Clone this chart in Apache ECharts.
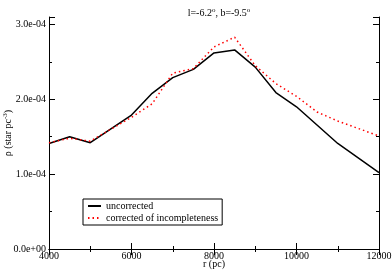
<!DOCTYPE html>
<html><head><meta charset="utf-8">
<script src="https://cdn.jsdelivr.net/npm/echarts@6/dist/echarts.min.js"></script>
<style>html,body{margin:0;padding:0;background:#fff}#c{width:392px;height:271px}</style>
</head><body><div id="c"></div>
<script>
var rUncorrected = [4000, 4500, 5000, 6000, 6500, 7000, 7500, 8000, 8500, 9000, 9500, 10000, 11000, 12000];
var uncorrected = [1.41e-4, 1.50e-4, 1.42e-4, 1.79e-4, 2.08e-4, 2.29e-4, 2.40e-4, 2.62e-4, 2.66e-4, 2.43e-4, 2.09e-4, 1.90e-4, 1.41e-4, 1.02e-4];
var rCorrected = [4000, 4500, 5000, 6000, 6500, 7000, 7500, 8000, 8500, 9000, 9500, 10000, 10500, 11000, 12000];
var corrected = [1.42e-4, 1.48e-4, 1.44e-4, 1.76e-4, 1.94e-4, 2.35e-4, 2.41e-4, 2.70e-4, 2.83e-4, 2.45e-4, 2.21e-4, 2.04e-4, 1.83e-4, 1.71e-4, 1.51e-4];
var seriesNames = ['uncorrected', 'corrected of incompleteness'];
var xTicks = ['4000', '6000', '8000', '10000', '12000'];
var yTicks = ['0.0e+00', '1.0e-04', '2.0e-04', '3.0e-04'];

function pairs(xs, ys) { return xs.map(function (x, i) { return [x, ys[i]]; }); }
function fmtY(v) {
  var idx = Math.round(v / 1e-4);
  return yTicks[idx] !== undefined ? yTicks[idx] : '';
}
function fmtX(v) {
  var idx = Math.round((v - 4000) / 2000);
  return xTicks[idx] !== undefined ? xTicks[idx] : '';
}
var font = 'Liberation Serif';
var chart = echarts.init(document.getElementById('c'), null, {renderer: 'canvas'});
function xAx(pos, labels) {
  return {
    type: 'value', position: pos, min: 4000, max: 12000, interval: 2000,
    axisLine: {show: true, lineStyle: {color: '#000', width: 1}},
    axisTick: {show: true, inside: true, length: 6, lineStyle: {color: '#000'}},
    minorTick: {show: true, splitNumber: 2, length: 3, lineStyle: {color: '#000'}},
    splitLine: {show: false},
    axisLabel: {show: labels, color: '#000', fontFamily: font, fontSize: 10, margin: 2, formatter: fmtX},
    name: labels ? 'r (pc)' : '', nameLocation: 'middle', nameGap: 10, nameMoveOverlap: false,
    nameTextStyle: {color: '#000', fontFamily: font, fontSize: 10}
  };
}
function yAx(pos, labels) {
  return {
    type: 'value', position: pos, min: 0, max: 3.1e-4, interval: 1e-4,
    axisLine: {show: true, lineStyle: {color: '#000', width: 1}},
    axisTick: {show: true, inside: true, length: 6, lineStyle: {color: '#000'}},
    minorTick: {show: true, splitNumber: 2, length: 3, lineStyle: {color: '#000'}},
    splitLine: {show: false},
    axisLabel: {show: labels, color: '#000', fontFamily: font, fontSize: 10, margin: 3, formatter: fmtY},
    name: labels ? '{a|ρ (star pc}{s|-3}{a|)}' : '', nameLocation: 'middle', nameGap: 34, nameMoveOverlap: false,
    nameTextStyle: {color: '#000', fontFamily: font, fontSize: 10,
      rich: {a: {fontFamily: font, fontSize: 10, color: '#000'},
             s: {fontFamily: font, fontSize: 7, color: '#000', padding: [0, 0, 6, 0]}}}
  };
}
chart.setOption({
  animation: false,
  backgroundColor: '#fff',
  title: {
    text: '{a|l=-6.2}{s|o}{a|, b=-9.5}{s|o}', left: 214, textAlign: 'center', top: 2,
    textStyle: {fontFamily: font, fontSize: 10, fontWeight: 'normal', color: '#000',
      rich: {a: {fontFamily: font, fontSize: 10, color: '#000'},
             s: {fontFamily: font, fontSize: 7, color: '#000', padding: [0, 0, 5, 0]}}}
  },
  grid: {left: 49, right: 13, top: 17, bottom: 22, containLabel: false, outerBoundsMode: 'none'},
  legend: {
    orient: 'vertical', left: 83, top: 199, itemWidth: 13, itemHeight: 8, itemGap: 2,
    padding: [2, 4, 2, 4], borderColor: '#000', borderWidth: 1, borderRadius: 0,
    textStyle: {fontFamily: font, fontSize: 10, color: '#000'},
    itemStyle: {opacity: 0},
    data: seriesNames
  },
  xAxis: [xAx('bottom', true), xAx('top', false)],
  yAxis: [yAx('left', true), yAx('right', false)],
  series: [
    {name: seriesNames[0], type: 'line', data: pairs(rUncorrected, uncorrected), showSymbol: false, symbol: 'none',
     lineStyle: {color: '#000', width: 1.5, type: 'solid'}, itemStyle: {color: '#000'}},
    {name: seriesNames[1], type: 'line', data: pairs(rCorrected, corrected), showSymbol: false, symbol: 'none',
     lineStyle: {color: '#ff0000', width: 1.5, type: [1.5, 3]}, itemStyle: {color: '#ff0000'}}
  ]
});
</script></body></html>
